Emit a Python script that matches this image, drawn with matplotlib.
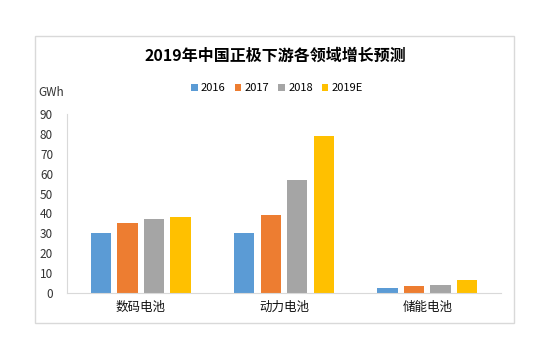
#!/usr/bin/env python3
import numpy as np
import matplotlib.pyplot as plt
from matplotlib.patches import Rectangle

plt.rcParams['font.family'] = ['Noto Sans CJK SC', 'DejaVu Sans']

categories = ['数码电池', '动力电池', '储能电池']
years = ['2016', '2017', '2018', '2019E']
colors = ['#5b9bd5', '#ed7d31', '#a5a5a5', '#ffc000']
values = {
    '2016': [30, 30, 2.5],
    '2017': [35, 39, 3.5],
    '2018': [37, 57, 4],
    '2019E': [38, 79, 6.5],
}
yticks = [0, 10, 20, 30, 40, 50, 60, 70, 80, 90]


def main():
    fig = plt.figure(figsize=(5.5, 3.6), dpi=100)
    fig.patch.set_facecolor('white')

    # chart border
    fig.patches.append(Rectangle((35 / 550, 1 - 323 / 360), (514 - 35) / 550, (323 - 36) / 360,
                                 transform=fig.transFigure, fill=False,
                                 edgecolor='#d9d9d9', linewidth=1))

    ax = fig.add_axes([67 / 550, 1 - 293 / 360, (501 - 67) / 550, (293 - 114) / 360])
    x = np.arange(len(categories))
    width = 0.14
    step = 0.185
    for i, yr in enumerate(years):
        ax.bar(x + (i - 1.5) * step, values[yr], width, color=colors[i], label=yr, zorder=2)

    ax.set_ylim(0, 90)
    ax.set_xlim(-0.515, 2.515)
    ax.set_yticks(yticks)
    ax.set_yticklabels([str(t) for t in yticks], fontsize=8.5, color='#333333')
    ax.set_xticks(x)
    ax.set_xticklabels(categories, fontsize=9, color='#111111')
    ax.tick_params(axis='both', length=0, pad=6)
    ax.tick_params(axis='y', pad=10)
    for s in ['top', 'right']:
        ax.spines[s].set_visible(False)
    ax.spines['left'].set_color('#d9d9d9')
    ax.spines['bottom'].set_color('#d9d9d9')

    fig.text(38 / 550, 1 - 93 / 360, 'GWh', fontsize=8.5, color='#333333', va='center')
    fig.text(0.5, 1 - 56 / 360, '2019年中国正极下游各领域增长预测', fontsize=11.5,
             fontweight='bold', ha='center', va='center')

    ax.legend(loc='center', bbox_to_anchor=(277 / 550, 1 - 88 / 360),
              bbox_transform=fig.transFigure, ncol=4, frameon=False,
              fontsize=8, handlelength=0.6, handleheight=0.6,
              handletextpad=0.3, columnspacing=0.8)

    fig.savefig('out.png', dpi=100)


if __name__ == '__main__':
    main()
